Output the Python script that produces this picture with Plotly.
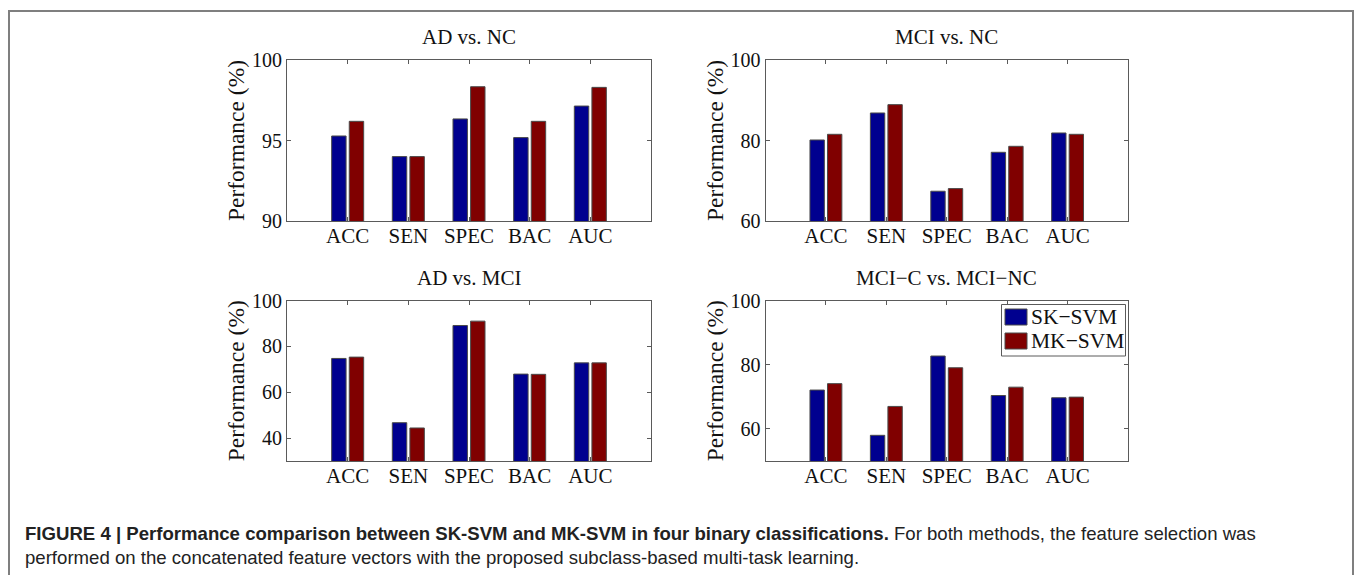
import plotly.graph_objects as go

categories = ["ACC", "SEN", "SPEC", "BAC", "AUC"]
panel_titles = ["AD vs. NC", "MCI vs. NC", "AD vs. MCI", "MCI\u2212C vs. MCI\u2212NC"]
series_names = ["SK\u2212SVM", "MK\u2212SVM"]

sk_ad_nc = [95.28, 94.0, 96.34, 95.18, 97.14]
mk_ad_nc = [96.19, 94.0, 98.34, 96.19, 98.30]
sk_mci_nc = [80.13, 86.84, 67.4, 77.07, 81.87]
mk_mci_nc = [81.54, 88.91, 68.05, 78.56, 81.54]
sk_ad_mci = [74.73, 46.7, 89.1, 67.9, 72.8]
mk_ad_mci = [75.31, 44.4, 91.0, 67.8, 72.8]
sk_mcic_mcinc = [72.1, 58.0, 82.7, 70.4, 69.7]
mk_mcic_mcinc = [74.1, 67.0, 79.05, 73.0, 69.9]

y_ranges = [[90, 100], [60, 100], [30, 100], [50, 100]]
y_tickvals = [[90, 95, 100], [60, 80, 100], [40, 60, 80, 100], [60, 80, 100]]

caption_bold = "FIGURE 4 | Performance comparison between SK-SVM and MK-SVM in four binary classifications."
caption_rest = " For both methods, the feature selection was"
caption_line2 = "performed on the concatenated feature vectors with the proposed subclass-based multi-task learning."

W, H = 1355, 575
SERIF = "Liberation Serif"
SANS = "Liberation Sans"
colors = ["#00008F", "#800000"]
EDGE = "#4a4a4a"

# panel pixel boxes: (left, right, top, bottom)
boxes = [(287, 651, 60, 221), (765.5, 1128, 60, 221),
         (287, 651, 300.5, 461), (765.5, 1128, 300.5, 461)]

data_pairs = [(sk_ad_nc, mk_ad_nc), (sk_mci_nc, mk_mci_nc),
              (sk_ad_mci, mk_ad_mci), (sk_mcic_mcinc, mk_mcic_mcinc)]

x_pos = list(range(1, len(categories) + 1))

fig = go.Figure()
annotations = []
shapes = []
for i, (pair, box) in enumerate(zip(data_pairs, boxes)):
    ax = "" if i == 0 else str(i + 1)
    xref, yref = "x" + ax, "y" + ax
    for j, vals in enumerate(pair):
        fig.add_trace(go.Bar(
            x=x_pos, y=vals, name=series_names[j], xaxis=xref, yaxis=yref,
            marker=dict(color=colors[j], line=dict(color=EDGE, width=1)),
            offsetgroup=str(j), showlegend=False,
        ))
    l, r, t, b = box
    axis_common = dict(showline=True, linecolor="#5a5a5a", linewidth=1, mirror="ticks",
                       ticks="inside", ticklen=4, tickcolor="#5a5a5a", showgrid=False,
                       zeroline=False, automargin=False)
    fig.layout["xaxis" + ax] = dict(
        domain=[l / W, r / W], anchor=yref, range=[0, 6],
        tickmode="array", tickvals=x_pos, ticktext=categories, ticklabelstandoff=-4,
        tickfont=dict(family=SERIF, size=21, color="#111"), **axis_common)
    fig.layout["yaxis" + ax] = dict(
        domain=[1 - b / H, 1 - t / H], anchor=xref, range=y_ranges[i],
        tickmode="array", tickvals=y_tickvals[i],
        tickfont=dict(family=SERIF, size=20, color="#111"),
        title=dict(text="Performance (%)", standoff=0,
                   font=dict(family=SERIF, size=23.5, color="#111")),
        **axis_common)
    annotations.append(dict(
        text=panel_titles[i], xref="paper", yref="paper",
        x=(l + r) / 2 / W, y=1 - (t - 23) / H, xanchor="center", yanchor="middle",
        showarrow=False, font=dict(family=SERIF, size=21, color="#111")))

# legend (drawn in the lower-right panel, top-right corner)
leg_l, leg_r, leg_t, leg_b = 1001.5, 1125.5, 304.5, 356
shapes.append(dict(type="rect", xref="paper", yref="paper",
                   x0=leg_l / W, x1=leg_r / W, y0=1 - leg_b / H, y1=1 - leg_t / H,
                   fillcolor="white", line=dict(color="#5a5a5a", width=1)))
for j, name in enumerate(series_names):
    cy = 317 + 24 * j
    shapes.append(dict(type="rect", xref="paper", yref="paper",
                       x0=1005 / W, x1=1027 / W, y0=1 - (cy + 8) / H, y1=1 - (cy - 8) / H,
                       fillcolor=colors[j], line=dict(color=EDGE, width=1)))
    annotations.append(dict(
        text=name, xref="paper", yref="paper", x=1029 / W, y=1 - cy / H,
        xanchor="left", yanchor="middle", showarrow=False,
        font=dict(family=SERIF, size=21.5, color="#111")))

annotations.append(dict(
    text="<b>" + caption_bold + "</b>" + caption_rest, xref="paper", yref="paper",
    x=23 / W, y=1 - 533 / H, xanchor="left", yanchor="middle", showarrow=False,
    font=dict(family=SANS, size=18.6, color="#222")))
annotations.append(dict(
    text=caption_line2, xref="paper", yref="paper",
    x=23 / W, y=1 - 557 / H, xanchor="left", yanchor="middle", showarrow=False,
    font=dict(family=SANS, size=18.6, color="#222")))

# outer figure frame
shapes.append(dict(type="rect", xref="paper", yref="paper",
                   x0=9 / W, x1=1353 / W, y0=-0.1, y1=1 - 11 / H,
                   line=dict(color="#7f7f7f", width=2)))

fig.update_layout(
    width=W, height=H, margin=dict(l=0, r=0, t=0, b=0, pad=0, autoexpand=False),
    paper_bgcolor="white", plot_bgcolor="white",
    barmode="group", bargap=0.42, bargroupgap=0.18,
    annotations=annotations, shapes=shapes,
    showlegend=False,
)

fig.write_html("out.html")
